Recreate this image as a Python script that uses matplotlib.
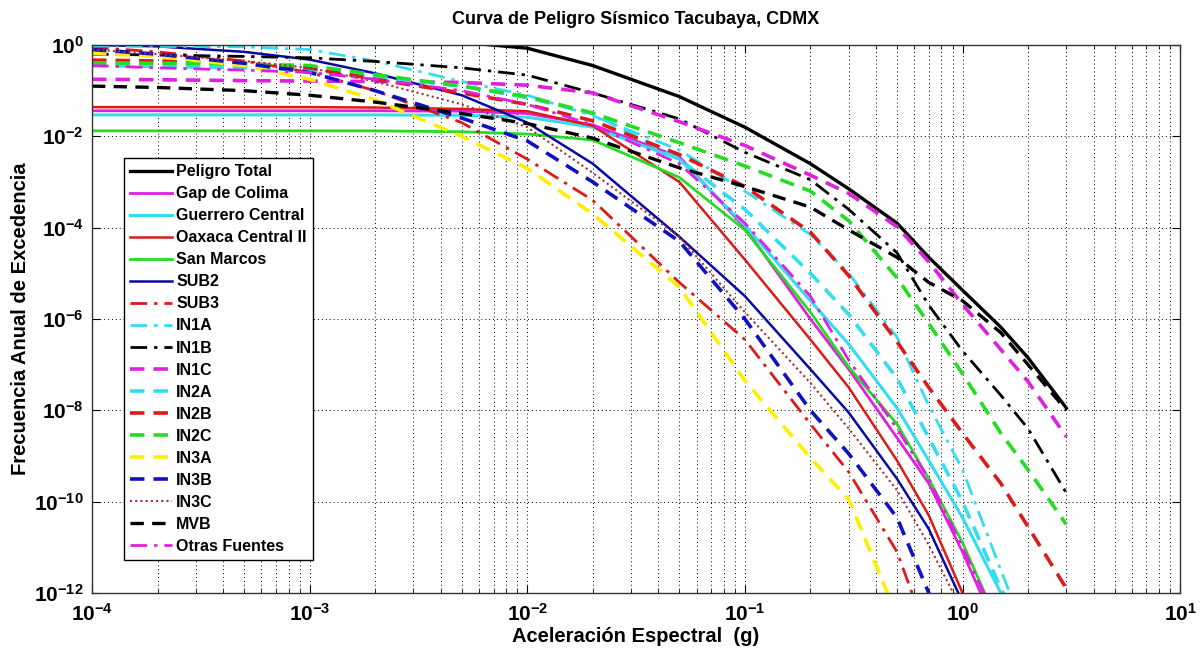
import numpy as np
import matplotlib
matplotlib.use("Agg")
import matplotlib.pyplot as plt
from matplotlib.ticker import NullLocator, FixedLocator, FixedFormatter

plt.rcParams['font.family'] = ['Liberation Sans', 'DejaVu Sans']
plt.rcParams['mathtext.fontset'] = 'custom'
plt.rcParams['mathtext.rm'] = 'Liberation Sans:bold'
plt.rcParams['mathtext.it'] = 'Liberation Sans:bold'
plt.rcParams['mathtext.bf'] = 'Liberation Sans:bold'

# Spectral acceleration (g)
accel = [1e-4, 2e-4, 5e-4, 1e-3, 2e-3, 5e-3, 1e-2, 2e-2, 5e-2, 0.1, 0.2, 0.3, 0.5, 0.7, 1, 1.5, 2, 3]

# log10 of annual exceedance rate for each source
total     = [0.5, 0.45, 0.35, 0.25, 0.15, 0.06, -0.07, -0.45, -1.13, -1.8, -2.6, -3.15, -3.9, -4.65, -5.37, -6.18, -6.85, -7.95]
gap       = [-1.44, -1.44, -1.44, -1.44, -1.44, -1.45, -1.5, -1.75, -2.45, -4.0, -6.0, -7.1, -8.6, -9.6, -11.1, -13.0, -14.5, -16.0]
guerrero  = [-1.53, -1.53, -1.53, -1.53, -1.53, -1.54, -1.58, -1.8, -2.5, -3.95, -5.6, -6.55, -7.95, -9.1, -10.35, -12.0, -13.3, -15.0]
oaxaca    = [-1.36, -1.36, -1.36, -1.36, -1.37, -1.4, -1.45, -1.77, -3.0, -4.7, -6.45, -7.5, -9.1, -10.3, -12.0, -14.0, -15.5, -17.0]
sanmarcos = [-1.88, -1.88, -1.88, -1.88, -1.88, -1.9, -1.95, -2.08, -2.9, -4.05, -5.85, -7.05, -8.3, -9.5, -10.9, -12.8, -14.0, -16.0]
sub2      = [0.0, -0.03, -0.15, -0.32, -0.62, -1.1, -1.7, -2.6, -4.2, -5.5, -7.1, -8.05, -9.5, -10.6, -12.2, -14.0, -15.5, -17.0]
sub3      = [-0.05, -0.15, -0.35, -0.6, -1.0, -1.7, -2.5, -3.4, -5.2, -6.45, -8.3, -9.35, -11.1, -13.0, -14.5, -16.0, -17.0, -18.0]
in1a      = [-0.02, -0.03, -0.04, -0.1, -0.35, -0.8, -1.1, -1.55, -2.3, -3.2, -4.15, -5.0, -6.4, -7.9, -9.3, -11.5, -13.0, -15.0]
in1b      = [-0.2, -0.22, -0.25, -0.28, -0.36, -0.5, -0.66, -1.05, -1.62, -2.35, -2.95, -3.6, -4.55, -5.7, -6.7, -7.67, -8.4, -9.81]
in1c      = [-0.75, -0.76, -0.78, -0.79, -0.8, -0.82, -0.88, -1.05, -1.68, -2.2, -2.85, -3.25, -3.98, -4.75, -5.68, -6.67, -7.37, -8.58]
in2a      = [-0.45, -0.47, -0.5, -0.55, -0.7, -0.9, -1.15, -1.5, -2.5, -3.6, -5.0, -5.9, -7.3, -8.6, -10.0, -11.9, -13.0, -15.0]
in2b      = [-0.33, -0.35, -0.4, -0.5, -0.75, -1.05, -1.3, -1.66, -2.4, -3.1, -4.1, -5.05, -6.5, -7.5, -8.5, -9.6, -10.55, -11.9]
in2c      = [-0.39, -0.4, -0.42, -0.45, -0.65, -0.9, -1.13, -1.49, -2.14, -2.65, -3.2, -3.85, -5.1, -6.1, -7.2, -8.5, -9.3, -10.5]
in3a      = [-0.18, -0.25, -0.45, -0.75, -1.2, -2.0, -2.7, -3.7, -5.3, -7.35, -9.04, -9.95, -12.5, -14.0, -15.5, -17.0, -18.0, -19.0]
in3b      = [-0.1, -0.2, -0.4, -0.6, -1.0, -1.6, -2.1, -3.0, -4.3, -6.0, -8.0, -8.95, -10.35, -12.0, -13.5, -15.0, -16.0, -17.0]
in3c      = [-0.1, -0.2, -0.35, -0.5, -0.8, -1.3, -1.8, -2.8, -4.2, -5.85, -7.4, -8.4, -9.75, -10.95, -12.4, -14.0, -15.0, -16.0]
mvb       = [-0.9, -0.93, -1.0, -1.1, -1.25, -1.5, -1.72, -2.04, -2.69, -3.1, -3.55, -4.05, -4.65, -5.2, -5.6, -6.3, -7.0, -8.0]
otras     = [-0.45, -0.5, -0.55, -0.6, -0.75, -1.0, -1.3, -1.75, -2.6, -3.9, -5.5, -6.9, -8.4, -9.5, -11.0, -12.8, -14.0, -16.0]

labels = ["Peligro Total", "Gap de Colima", "Guerrero Central", "Oaxaca Central II",
          "San Marcos", "SUB2", "SUB3", "IN1A", "IN1B", "IN1C", "IN2A", "IN2B",
          "IN2C", "IN3A", "IN3B", "IN3C", "MVB", "Otras Fuentes"]
series = [total, gap, guerrero, oaxaca, sanmarcos, sub2, sub3, in1a, in1b, in1c,
          in2a, in2b, in2c, in3a, in3b, in3c, mvb, otras]

x_ticks = [-4, -3, -2, -1, 0, 1]
y_ticks = [-12, -10, -8, -6, -4, -2, 0]

DD = (0, (6, 2.5, 1.2, 2.5))
DA = (0, (4, 2.5))
styles = [
    dict(color="#000000", ls="-", lw=2.4),
    dict(color="#E020E0", ls="-", lw=2.0),
    dict(color="#33DDF0", ls="-", lw=2.2),
    dict(color="#DD1A1A", ls="-", lw=1.8),
    dict(color="#22DD22", ls="-", lw=2.0),
    dict(color="#0A0AA0", ls="-", lw=1.8),
    dict(color="#DD1A1A", ls=DD, lw=2.0),
    dict(color="#33DDF0", ls=DD, lw=2.0),
    dict(color="#000000", ls=DD, lw=2.0),
    dict(color="#E020E0", ls=DA, lw=2.6),
    dict(color="#33DDF0", ls=DA, lw=2.6),
    dict(color="#DD1A1A", ls=DA, lw=2.6),
    dict(color="#22DD22", ls=DA, lw=2.6),
    dict(color="#FFEE00", ls=DA, lw=2.6),
    dict(color="#1010C0", ls=DA, lw=2.6),
    dict(color="#A03030", ls=(0, (1, 1.5)), lw=1.5),
    dict(color="#000000", ls=DA, lw=2.4),
    dict(color="#E020E0", ls=DD, lw=2.0),
]

fig = plt.figure(figsize=(12.03, 6.58), dpi=100)
ax = fig.add_axes([0.0765, 0.0988, 0.9045, 0.8328])

x = np.array(accel)
for lab, ys, st in zip(labels, series, styles):
    ax.plot(x, 10.0 ** np.array(ys), label=lab, color=st["color"],
            linestyle=st["ls"], linewidth=st["lw"])

ax.set_xscale("log")
ax.set_yscale("log")
ax.set_xlim(1e-4, 1e1)
ax.set_ylim(1e-12, 1e0)
ax.xaxis.set_major_locator(FixedLocator([10.0 ** k for k in x_ticks]))
ax.xaxis.set_major_formatter(FixedFormatter([r"$\mathbf{10^{%d}}$" % k for k in x_ticks]))
minor = [m * 10.0 ** k for k in x_ticks[:-1] for m in range(2, 10)]
ax.xaxis.set_minor_locator(FixedLocator(minor))
ax.yaxis.set_major_locator(FixedLocator([10.0 ** k for k in y_ticks]))
ax.yaxis.set_major_formatter(FixedFormatter([r"$\mathbf{10^{%d}}$" % k for k in y_ticks]))
ax.yaxis.set_minor_locator(NullLocator())

ax.grid(True, which="major", axis="both", color="k", linestyle=(0, (1, 3)), linewidth=0.7)
ax.grid(True, which="minor", axis="x", color="k", linestyle=(0, (1, 3)), linewidth=0.7)
ax.tick_params(which="both", direction="in", top=True, right=True)
ax.tick_params(which="major", length=6, labelsize=15)
ax.tick_params(axis="x", which="major", pad=7)
ax.tick_params(axis="y", which="major", pad=6)
ax.tick_params(which="minor", length=3)
for sp in ax.spines.values():
    sp.set_linewidth(1.0)
    sp.set_color("#333333")

ax.set_title("Curva de Peligro Sísmico Tacubaya, CDMX", fontsize=13, fontweight="bold", pad=15)
ax.set_xlabel("Aceleración Espectral  (g)", fontsize=14.5, fontweight="bold", labelpad=2)
ax.set_ylabel("Frecuencia Anual de Excedencia", fontsize=14.5, fontweight="bold", labelpad=3)

leg = ax.legend(loc="upper left", bbox_to_anchor=(0.029, 0.794), borderaxespad=0,
                prop=dict(size=11.5, weight="bold"), handlelength=2.6, handletextpad=0.3,
                labelspacing=0.44, fancybox=False, framealpha=1, edgecolor="k",
                borderpad=0.4)
leg.get_frame().set_linewidth(1.0)

fig.savefig("out.png", dpi=100)
